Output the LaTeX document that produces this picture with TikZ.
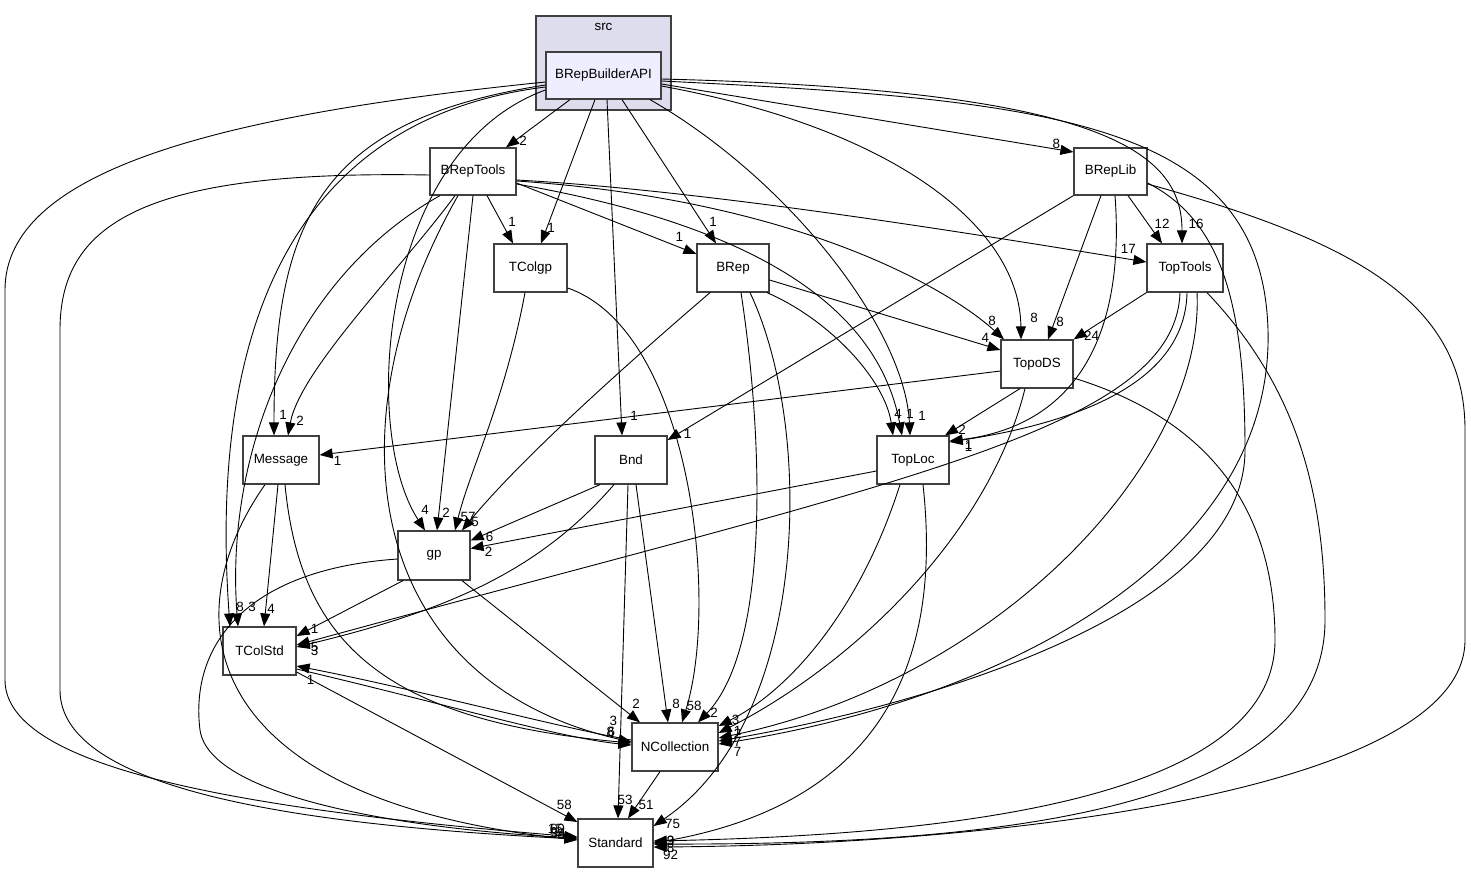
\documentclass[tikz,border=0pt]{standalone}
\usepackage{fontspec}
\setmainfont{Liberation Sans}
\usetikzlibrary{arrows.meta}
\definecolor{clusterfill}{HTML}{DDDDEE}
\definecolor{mainfill}{HTML}{EEEEFF}
\definecolor{boxline}{HTML}{404040}

\begin{document}
\begin{tikzpicture}[x=1pt,y=-1pt,>={Triangle[length=13pt,width=10pt]},
    font=\fontsize{13.4}{15}\selectfont,
    dirbox/.style={draw=boxline, line width=1.2pt, fill=white, rectangle, minimum height=48pt, inner sep=2pt},
    lbl/.style={inner sep=0pt},
    dep/.style={->, line width=0.9pt}]
    \useasboundingbox (0,0) rectangle (1471,873);

    \node (src) [draw=boxline, line width=1.3pt, fill=clusterfill, rectangle, minimum width=135pt, minimum height=94pt] at (603.5,63) {};
    \node (srclabel) [lbl] at (603.5,27) {src};
    \node (bba) [dirbox, fill=mainfill, minimum width=115pt, minimum height=47pt] at (603.5,75.5) {BRepBuilderAPI};
    \node (breptools) [dirbox, minimum width=86pt, minimum height=47pt] at (473,171.5) {BRepTools};
    \node (breplib) [dirbox, minimum width=73pt, minimum height=47pt] at (1110.5,171.5) {BRepLib};
    \node (tcolgp) [dirbox, minimum width=73pt] at (530.5,268) {TColgp};
    \node (brep) [dirbox, minimum width=72pt] at (733,268) {BRep};
    \node (toptools) [dirbox, minimum width=76pt] at (1185,268) {TopTools};
    \node (topods) [dirbox, minimum width=72pt] at (1037,364) {TopoDS};
    \node (message) [dirbox, minimum width=76pt] at (281,460) {Message};
    \node (bnd) [dirbox, minimum width=72pt] at (631,460) {Bnd};
    \node (toploc) [dirbox, minimum width=72pt] at (913,460) {TopLoc};
    \node (gp) [dirbox, minimum width=72pt, minimum height=49pt] at (434,555.5) {gp};
    \node (tcolstd) [dirbox, minimum width=73pt] at (259.5,651) {TColStd};
    \node (ncoll) [dirbox, minimum width=86pt] at (675,747) {NCollection};
    \node (standard) [dirbox, minimum width=75pt] at (615.5,843) {Standard};

    % BRepBuilderAPI
    \draw[dep] ([xshift=-33.5pt]bba.south) -- ([xshift=33pt]breptools.north) node[lbl, shift={(17,-7)}] {2};
    \draw[dep] ([xshift=-8.5pt]bba.south) -- ([xshift=10.5pt]tcolgp.north) node[lbl, shift={(10,-16)}] {1};
    \draw[dep] ([xshift=3.5pt]bba.south) -- ([xshift=-9pt]bnd.north) node[lbl, shift={(12,-20)}] {1};
    \draw[dep] ([xshift=18.5pt]bba.south) -- ([xshift=-17pt]brep.north) node[lbl, shift={(-3,-22)}] {1};
    \draw[dep] ([xshift=46.5pt]bba.south) .. controls (790,180) and (905,330) .. ([xshift=-3pt]toploc.north) node[lbl, shift={(12,-20)}] {1};
    \draw[dep] ([yshift=-10.5pt]bba.east) .. controls (900,130) and (1020,230) .. ([xshift=-16pt]topods.north) node[lbl, shift={(13,-22)}] {8};
    \draw[dep] ([yshift=-8.5pt]bba.east) -- ([yshift=19.5pt]breplib.west) node[lbl, shift={(-17,-8)}] {8};
    \draw[dep] ([yshift=-3.5pt]bba.east) .. controls (1100,90) and (1182,150) .. ([xshift=-3pt]toptools.north) node[lbl, shift={(14,-20)}] {16};
    \draw[dep] ([yshift=-5.5pt]bba.east) .. controls (1050,100) and (1262,120) .. (1268,330) .. controls (1274,560) and (1000,700) .. ([yshift=3pt]ncoll.east) node[lbl, shift={(19,8)}] {7};
    \draw[dep] ([yshift=-6.5pt]bba.west) .. controls (220,115) and (5,170) .. (5,290) -- (5,680) .. controls (5,770) and (250,810) .. ([yshift=6pt]standard.west) node[lbl, shift={(-22,-8)}] {15};
    \draw[dep] ([yshift=-9.5pt]bba.west) .. controls (320,120) and (274,220) .. ([xshift=-7pt]message.north) node[lbl, shift={(9,-21)}] {1};
    \draw[dep] ([yshift=-14.5pt]bba.west) .. controls (380,150) and (360,430) .. ([xshift=-9pt]gp.north) node[lbl, shift={(0,-21)}] {4};
    \draw[dep] ([yshift=-11.5pt]bba.west) .. controls (240,125) and (215,420) .. ([xshift=-29.5pt]tcolstd.north) node[lbl, shift={(10,-20)}] {8};

    % BRepTools
    \draw[dep] ([xshift=14pt]breptools.south) -- ([xshift=-17.5pt]tcolgp.north) node[lbl, shift={(-1,-22)}] {1};
    \draw[dep] ([yshift=-11.5pt]breptools.east) -- ([yshift=14pt]brep.west) node[lbl, shift={(-17,-17)}] {1};
    \draw[dep] ([yshift=-8.5pt]breptools.east) .. controls (700,190) and (950,230) .. ([yshift=6pt]toptools.west) node[lbl, shift={(-18,-13)}] {17};
    \draw[dep] ([yshift=-9.5pt]breptools.east) .. controls (800,200) and (950,290) .. ([xshift=-33pt]topods.north) node[lbl, shift={(-12,-19)}] {8};
    \draw[dep] ([yshift=-12.5pt]breptools.east) .. controls (780,230) and (880,320) .. ([xshift=-11pt]toploc.north) node[lbl, shift={(8,-22)}] {1};
    \draw[dep] ([xshift=-18pt]breptools.south) .. controls (400,270) and (300,370) .. ([xshift=7pt]message.north) node[lbl, shift={(12,-15)}] {2};
    \draw[dep] (breptools.south) -- ([xshift=3pt]gp.north) node[lbl, shift={(9,-18)}] {2};
    \draw[dep] ([xshift=-33pt]breptools.south) .. controls (290,280) and (225,460) .. ([xshift=-21.5pt]tcolstd.north) node[lbl, shift={(14,-20)}] {3};
    \draw[dep] ([xshift=-15pt]breptools.south) .. controls (330,420) and (360,680) .. ([yshift=5pt]ncoll.west) node[lbl, shift={(-18,-21)}] {3};
    \draw[dep] ([yshift=-3.5pt]breptools.west) .. controls (150,170) and (60,220) .. (60,330) -- (60,690) .. controls (60,790) and (300,825) .. ([yshift=4pt]standard.west) node[lbl, shift={(-20,-5)}] {58};

    % BRepLib
    \draw[dep] ([xshift=17.5pt]breplib.south) -- ([xshift=-23pt]toptools.north) node[lbl, shift={(0,-20)}] {12};
    \draw[dep] ([xshift=-9.5pt]breplib.south) -- ([xshift=11pt]topods.north) node[lbl, shift={(12,-18)}] {8};
    \draw[dep] ([xshift=4.5pt]breplib.south) .. controls (1125,330) and (1080,425) .. ([yshift=19pt]toploc.east) node[lbl, shift={(19,4)}] {1};
    \draw[dep] (breplib.south west) -- ([yshift=20pt]bnd.east) node[lbl, shift={(20,-6)}] {1};
    \draw[dep] ([yshift=-11.5pt]breplib.east) .. controls (1220,220) and (1245,300) .. (1245,450) .. controls (1245,620) and (900,710) .. ([yshift=6pt]ncoll.east) node[lbl, shift={(19,1)}] {7};
    \draw[dep] ([yshift=-12.5pt]breplib.east) .. controls (1350,240) and (1465,300) .. (1465,430) -- (1465,640) .. controls (1465,790) and (1000,845) .. ([yshift=-4pt]standard.east) node[lbl, shift={(17,8)}] {92};

    % TColgp
    \draw[dep] ([xshift=-5.5pt]tcolgp.south) .. controls (505,400) and (470,470) .. ([xshift=21pt]gp.north) node[lbl, shift={(13,-13)}] {57};
    \draw[dep] ([yshift=-20pt]tcolgp.east) .. controls (690,330) and (720,600) .. ([xshift=7pt]ncoll.north) node[lbl, shift={(12,-17)}] {58};

    % BRep
    \draw[dep] ([xshift=-23pt]brep.south) .. controls (620,370) and (520,460) .. ([xshift=28pt]gp.north) node[lbl, shift={(13,-8)}] {5};
    \draw[dep] ([yshift=-12pt]brep.east) -- ([yshift=14pt]topods.west) node[lbl, shift={(-15,-12)}] {4};
    \draw[dep] ([xshift=34pt]brep.south) .. controls (830,320) and (885,380) .. ([xshift=-20pt]toploc.north) node[lbl, shift={(5,-22)}] {4};
    \draw[dep] ([xshift=8pt]brep.south) .. controls (765,450) and (768,650) .. ([xshift=23pt]ncoll.north) node[lbl, shift={(16,-10)}] {2};
    \draw[dep] ([xshift=17pt]brep.south) .. controls (815,430) and (810,720) .. ([yshift=17pt]standard.east) node[lbl, shift={(19,-2)}] {75};

    % TopTools
    \draw[dep] (toptools.south west) -- (topods.north east) node[lbl, shift={(18,-4)}] {24};
    \draw[dep] ([xshift=-5pt]toptools.south) .. controls (1175,430) and (900,480) .. ([yshift=6pt]tcolstd.east) node[lbl, shift={(18,2)}] {5};
    \draw[dep] ([xshift=2pt]toptools.south) .. controls (1185,390) and (1060,425) .. ([yshift=18pt]toploc.east) node[lbl, shift={(19,5)}] {1};
    \draw[dep] ([xshift=12pt]toptools.south) .. controls (1205,460) and (1000,680) .. ([yshift=9pt]ncoll.east) node[lbl, shift={(19,-4)}] {2};
    \draw[dep] ([xshift=22pt]toptools.south) .. controls (1290,380) and (1325,480) .. (1325,620) .. controls (1325,810) and (1000,845) .. ([yshift=-1pt]standard.east) node[lbl, shift={(17,4)}] {8};

    % TopoDS
    \draw[dep] ([yshift=-7pt]topods.west) -- ([yshift=5pt]message.east) node[lbl, shift={(18,6)}] {1};
    \draw[dep] ([xshift=-17pt]topods.south) -- ([xshift=32pt]toploc.north) node[lbl, shift={(17,-6)}] {2};
    \draw[dep] ([xshift=-12pt]topods.south) .. controls (990,530) and (860,660) .. ([yshift=14pt]ncoll.east) node[lbl, shift={(19,-2)}] {1};
    \draw[dep] ([yshift=-14pt]topods.east) .. controls (1210,420) and (1275,510) .. (1275,640) .. controls (1275,800) and (950,835) .. ([yshift=2pt]standard.east) node[lbl, shift={(17,0)}] {9};

    % Message
    \draw[dep] ([xshift=-3pt]message.south) -- ([xshift=4.5pt]tcolstd.north) node[lbl, shift={(7,-18)}] {4};
    \draw[dep] ([xshift=4pt]message.south) .. controls (300,640) and (380,720) .. ([yshift=4pt]ncoll.west) node[lbl, shift={(-21,-11)}] {8};
    \draw[dep] ([xshift=-16pt]message.south) .. controls (170,620) and (200,800) .. ([yshift=3pt]standard.west) node[lbl, shift={(-19,-7)}] {94};

    % Bnd
    \draw[dep] ([xshift=-31pt]bnd.south) -- ([yshift=15pt]gp.east) node[lbl, shift={(19,-4)}] {6};
    \draw[dep] ([xshift=-17pt]bnd.south) .. controls (540,570) and (450,610) .. ([yshift=4pt]tcolstd.east) node[lbl, shift={(18,4)}] {3};
    \draw[dep] ([xshift=5pt]bnd.south) -- ([xshift=-7pt]ncoll.north) node[lbl, shift={(8,-19)}] {8};
    \draw[dep] ([xshift=-3pt]bnd.south) -- ([xshift=2.5pt]standard.north) node[lbl, shift={(7,-19)}] {53};

    % TopLoc
    \draw[dep] ([yshift=-11pt]toploc.west) -- ([yshift=7pt]gp.east) node[lbl, shift={(18,3)}] {2};
    \draw[dep] ([xshift=-13pt]toploc.south) .. controls (860,610) and (790,690) .. ([yshift=21pt]ncoll.east) node[lbl, shift={(17,-6)}] {3};
    \draw[dep] ([xshift=10pt]toploc.south) .. controls (940,640) and (900,800) .. (standard.east) node[lbl, shift={(17,-2)}] {3};

    % gp
    \draw[dep] ([xshift=-31pt]gp.south) -- ([yshift=15pt]tcolstd.east) node[lbl, shift={(18,-7)}] {1};
    \draw[dep] ([xshift=28pt]gp.south) -- ([xshift=-35pt]ncoll.north) node[lbl, shift={(-4,-19)}] {2};
    \draw[dep] ([yshift=-3.5pt]gp.west) .. controls (240,570) and (190,650) .. (200,730) .. controls (210,800) and (420,830) .. ([yshift=5pt]standard.west) node[lbl, shift={(-20,-9)}] {60};

    % TColStd, NCollection
    \draw[dep] ([yshift=-18pt]tcolstd.east) .. controls (450,705) and (560,738) .. ([yshift=2pt]ncoll.west) node[lbl, shift={(-20,-13)}] {6};
    \draw[dep] ([yshift=7pt]ncoll.west) .. controls (560,728) and (420,690) .. ([yshift=-15pt]tcolstd.east) node[lbl, shift={(14,14)}] {1};
    \draw[dep] ([yshift=-21pt]tcolstd.east) -- ([yshift=21pt]standard.west) node[lbl, shift={(-13,-17)}] {58};
    \draw[dep] ([xshift=-15pt]ncoll.south) -- ([xshift=12.5pt]standard.north) node[lbl, shift={(18,-13)}] {51};
\end{tikzpicture}
\end{document}
